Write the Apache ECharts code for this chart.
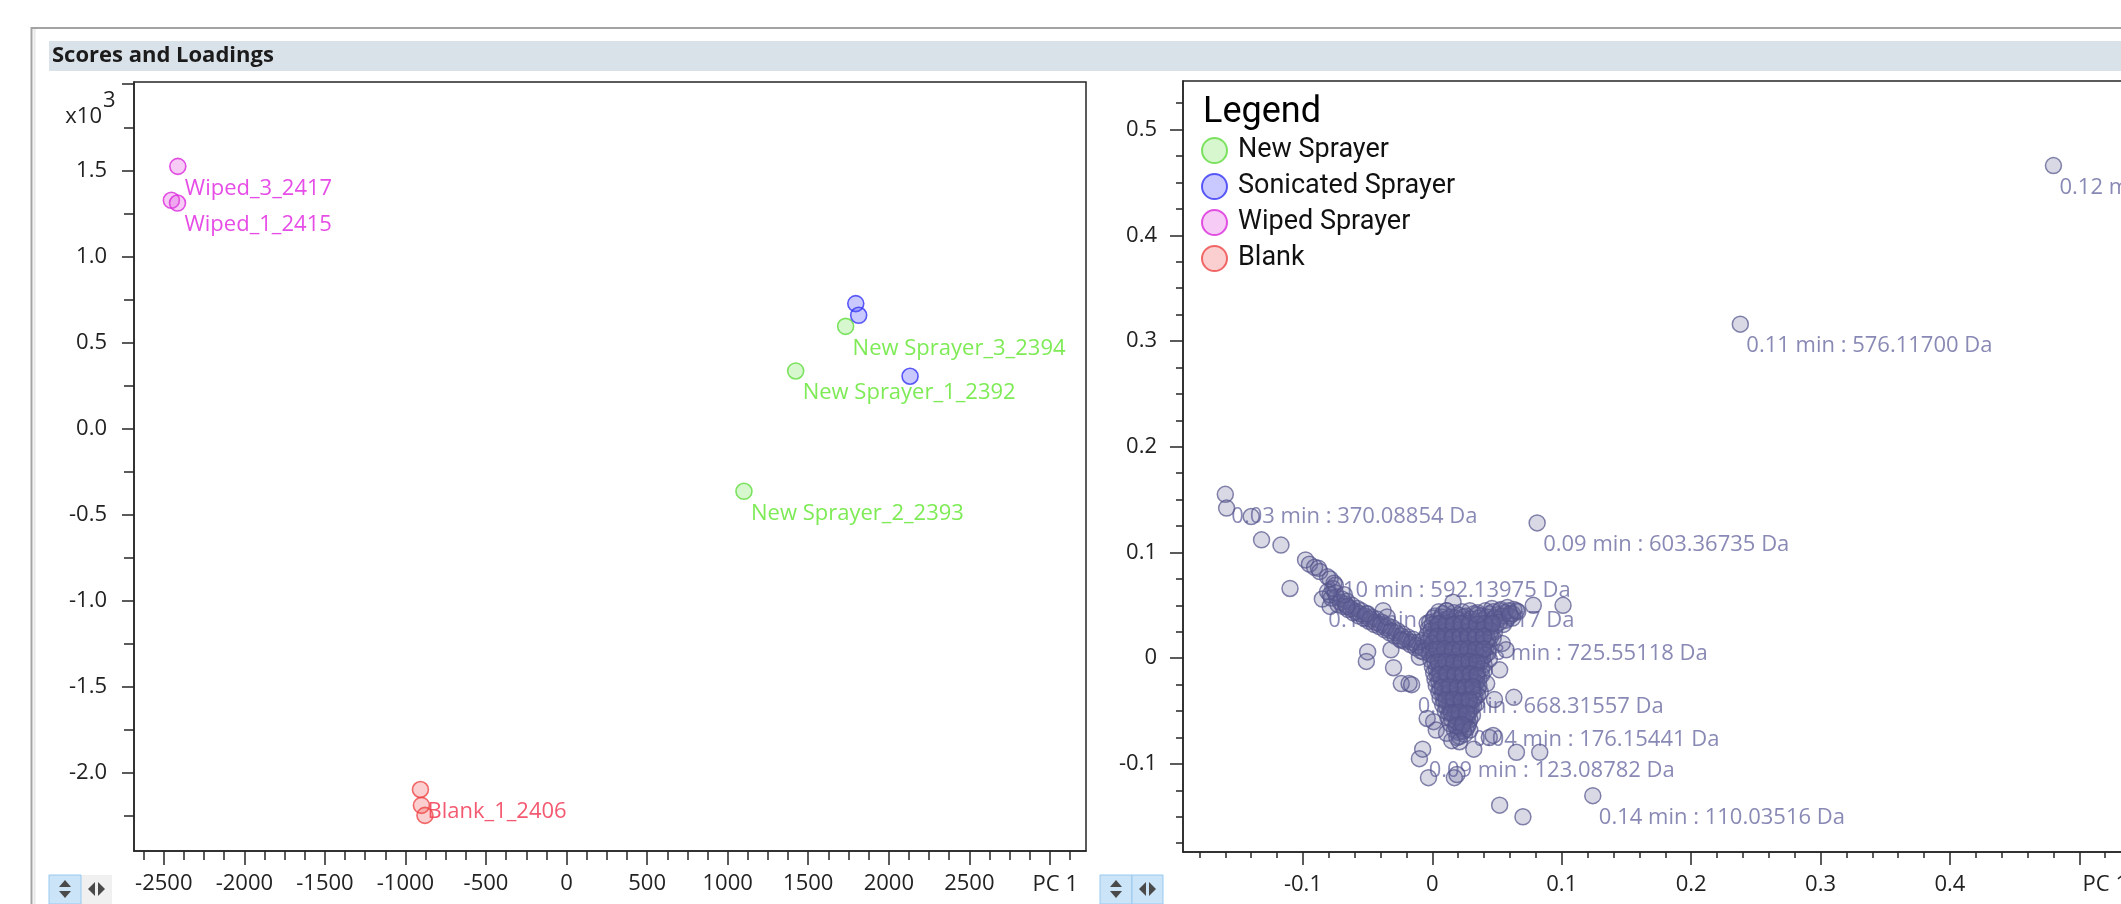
<!DOCTYPE html>
<html><head><meta charset="utf-8">
<script src="https://cdn.jsdelivr.net/npm/echarts@6/dist/echarts.min.js"></script>
<style>html,body{margin:0;padding:0;background:#fff;overflow:hidden}#c{width:2121px;height:904px}</style>
</head><body><div id="c"></div>
<script>
// ---------------- data ----------------
const groupNames = ['New Sprayer', 'Sonicated Sprayer', 'Wiped Sprayer', 'Blank'];
const newSprayer = [[1732, 594], [1422, 335], [1101, -364]];
const newSprayerLabels = ['New Sprayer_3_2394', 'New Sprayer_1_2392', 'New Sprayer_2_2393'];
const sonicated = [[1795, 726], [1813, 658], [2132, 304]];
const sonicatedLabels = ['', '', ''];
const wiped = [[-2413, 1523], [-2453, 1326], [-2415, 1310]];
const wipedLabels = ['Wiped_3_2417', '', 'Wiped_1_2415'];
const blank = [[-907, -2096], [-901, -2188], [-879, -2246]];
const blankLabels = ['Blank_1_2406', '', ''];

const scoreXTicks = [-2500, -2000, -1500, -1000, -500, 0, 500, 1000, 1500, 2000, 2500, 3000];
const scoreXTickLabels = ['-2500', '-2000', '-1500', '-1000', '-500', '0', '500', '1000', '1500', '2000', '2500', ''];
const scoreXMinor = [-2625, -2375, -2250, -2125, -1875, -1750, -1625, -1375, -1250, -1125, -875, -750, -625, -375, -250, -125,
  125, 250, 375, 625, 750, 875, 1125, 1250, 1375, 1625, 1750, 1875, 2125, 2250, 2375, 2625, 2750, 2875, 3125];
const scoreYTicks = [-2000, -1500, -1000, -500, 0, 500, 1000, 1500, 2000];
const scoreYTickLabels = ['-2.0', '-1.5', '-1.0', '-0.5', '0.0', '0.5', '1.0', '1.5', ''];
const scoreYMinor = [-2250, -1750, -1250, -750, -250, 250, 750, 1250, 1750];

const loadXTicks = [-0.1, 0, 0.1, 0.2, 0.3, 0.4, 0.5];
const loadXTickLabels = ['-0.1', '0', '0.1', '0.2', '0.3', '0.4', ''];
const loadXMinor = [-0.18, -0.16, -0.14, -0.12, -0.08, -0.06, -0.04, -0.02, 0.02, 0.04, 0.06, 0.08, 0.12, 0.14, 0.16, 0.18,
  0.22, 0.24, 0.26, 0.28, 0.32, 0.34, 0.36, 0.38, 0.42, 0.44, 0.46, 0.48, 0.52, 0.54];
const loadYTicks = [-0.1, 0, 0.1, 0.2, 0.3, 0.4, 0.5];
const loadYTickLabels = ['-0.1', '0', '0.1', '0.2', '0.3', '0.4', '0.5'];
const loadYMinor = [-0.175, -0.15, -0.125, -0.075, -0.05, -0.025, 0.025, 0.05, 0.075, 0.125, 0.15, 0.175,
  0.225, 0.25, 0.275, 0.325, 0.35, 0.375, 0.425, 0.45, 0.475, 0.525];

const loadingPoints = [
  // upper-left tail
  [-0.160, 0.155], [-0.159, 0.142], [-0.140, 0.134], [-0.132, 0.112], [-0.117, 0.107], [-0.110, 0.066],
  [-0.098, 0.093], [-0.095, 0.089], [-0.091, 0.086], [-0.088, 0.085], [-0.087, 0.082], [-0.081, 0.077],
  [-0.079, 0.075], [-0.076, 0.071], [-0.075, 0.069], [-0.085, 0.056], [-0.079, 0.049],
  // left arm
  [-0.081, 0.063], [-0.078, 0.057], [-0.077, 0.066], [-0.074, 0.058], [-0.073, 0.051], [-0.070, 0.056],
  [-0.069, 0.049], [-0.066, 0.054], [-0.065, 0.046], [-0.062, 0.050], [-0.061, 0.043], [-0.058, 0.047],
  [-0.057, 0.040], [-0.055, 0.045], [-0.053, 0.038], [-0.050, 0.042], [-0.049, 0.035], [-0.047, 0.039],
  [-0.045, 0.032], [-0.043, 0.037], [-0.041, 0.030], [-0.039, 0.034], [-0.037, 0.027], [-0.035, 0.031],
  [-0.033, 0.024], [-0.031, 0.029], [-0.029, 0.021], [-0.027, 0.026], [-0.025, 0.018], [-0.023, 0.023],
  [-0.021, 0.016], [-0.019, 0.020], [-0.017, 0.013], [-0.015, 0.018], [-0.013, 0.010], [-0.011, 0.015],
  [-0.009, 0.007],
  [-0.079, 0.060], [-0.075, 0.062], [-0.071, 0.053], [-0.067, 0.051], [-0.063, 0.047], [-0.059, 0.044],
  [-0.056, 0.042], [-0.052, 0.040], [-0.048, 0.037], [-0.044, 0.034], [-0.040, 0.032], [-0.036, 0.029],
  [-0.032, 0.026], [-0.028, 0.024], [-0.024, 0.021], [-0.020, 0.018], [-0.016, 0.015], [-0.012, 0.012],
  [-0.008, 0.010], [-0.005, 0.008],
  [-0.068, 0.060], [-0.066, 0.049], [-0.051, 0.042], [-0.038, 0.045], [-0.035, 0.039], [-0.024, 0.017],
  [-0.050, 0.006], [-0.051, -0.003], [-0.032, 0.008], [-0.030, -0.009], [-0.024, -0.024], [-0.018, -0.024],
  [-0.016, -0.025], [-0.007, 0.017], [-0.010, 0.001], [-0.007, 0.006], [-0.004, 0.033],
  // core, layer 1
  [0.046, 0.047], [0.052, 0.045], [0.058, 0.048], [0.063, 0.046],
  [0.002, 0.040], [0.008, 0.042], [0.014, 0.039], [0.020, 0.041], [0.026, 0.040], [0.032, 0.042], [0.038, 0.040],
  [0.044, 0.042], [0.050, 0.041], [0.056, 0.043], [0.062, 0.042], [0.066, 0.044],
  [-0.002, 0.034], [0.004, 0.036], [0.009, 0.035], [0.015, 0.034], [0.021, 0.036], [0.027, 0.035], [0.033, 0.034],
  [0.039, 0.036], [0.045, 0.035], [0.051, 0.037], [0.057, 0.036], [0.062, 0.038],
  [-0.003, 0.028], [0.003, 0.030], [0.008, 0.029], [0.013, 0.028], [0.019, 0.030], [0.025, 0.029], [0.031, 0.028],
  [0.037, 0.030], [0.043, 0.029], [0.049, 0.031], [0.055, 0.032],
  [-0.004, 0.022], [0.002, 0.024], [0.007, 0.023], [0.012, 0.022], [0.018, 0.024], [0.024, 0.023], [0.030, 0.022],
  [0.036, 0.024], [0.042, 0.023], [0.048, 0.025],
  [-0.003, 0.016], [0.002, 0.018], [0.008, 0.017], [0.013, 0.016], [0.019, 0.018], [0.025, 0.017], [0.031, 0.016],
  [0.037, 0.018], [0.043, 0.017], [0.047, 0.019],
  [-0.002, 0.010], [0.003, 0.012], [0.009, 0.011], [0.014, 0.010], [0.020, 0.012], [0.026, 0.011], [0.032, 0.010],
  [0.038, 0.012], [0.044, 0.011],
  [-0.002, 0.004], [0.004, 0.006], [0.009, 0.005], [0.015, 0.004], [0.021, 0.006], [0.027, 0.005], [0.033, 0.004],
  [0.038, 0.006], [0.043, 0.005],
  [-0.001, -0.002], [0.004, 0.000], [0.010, -0.001], [0.016, -0.002], [0.022, 0.000], [0.028, -0.001], [0.034, -0.002],
  [0.039, 0.000], [0.044, -0.001],
  [0.000, -0.008], [0.005, -0.006], [0.011, -0.007], [0.017, -0.008], [0.023, -0.006], [0.029, -0.007], [0.034, -0.008], [0.040, -0.006],
  [0.001, -0.014], [0.006, -0.012], [0.012, -0.013], [0.018, -0.014], [0.024, -0.012], [0.030, -0.013], [0.035, -0.014], [0.040, -0.012],
  [0.002, -0.020], [0.007, -0.018], [0.013, -0.019], [0.019, -0.020], [0.025, -0.018], [0.031, -0.019], [0.036, -0.020],
  [0.003, -0.026], [0.008, -0.024], [0.014, -0.025], [0.020, -0.026], [0.026, -0.024], [0.031, -0.025], [0.036, -0.026],
  [0.005, -0.032], [0.010, -0.030], [0.015, -0.031], [0.021, -0.032], [0.027, -0.030], [0.032, -0.031], [0.037, -0.032],
  [0.006, -0.038], [0.011, -0.036], [0.017, -0.037], [0.022, -0.038], [0.028, -0.036], [0.033, -0.037],
  [0.008, -0.044], [0.013, -0.042], [0.018, -0.043], [0.024, -0.044], [0.029, -0.042], [0.034, -0.043],
  [0.010, -0.050], [0.015, -0.048], [0.020, -0.049], [0.025, -0.050], [0.030, -0.048],
  [0.012, -0.056], [0.017, -0.054], [0.022, -0.055], [0.027, -0.056], [0.031, -0.054],
  [0.014, -0.062], [0.019, -0.060], [0.024, -0.061], [0.028, -0.062],
  [0.017, -0.068], [0.022, -0.066], [0.026, -0.067],
  [0.021, -0.074], [0.025, -0.072],
  // core, layer 2
  [0.005, 0.044], [0.011, 0.045], [0.017, 0.043], [0.023, 0.044], [0.029, 0.045], [0.035, 0.043], [0.041, 0.045],
  [0.047, 0.044], [0.053, 0.046], [0.059, 0.045],
  [0.001, 0.038], [0.007, 0.039], [0.012, 0.037], [0.018, 0.038], [0.024, 0.039], [0.030, 0.037], [0.036, 0.038],
  [0.042, 0.039], [0.048, 0.038], [0.054, 0.040], [0.060, 0.040],
  [0.000, 0.032], [0.006, 0.033], [0.011, 0.031], [0.016, 0.032], [0.022, 0.033], [0.028, 0.031], [0.034, 0.032],
  [0.040, 0.033], [0.046, 0.032], [0.052, 0.034],
  [-0.001, 0.026], [0.005, 0.027], [0.010, 0.025], [0.015, 0.026], [0.021, 0.027], [0.027, 0.025], [0.033, 0.026],
  [0.039, 0.027], [0.045, 0.026],
  [-0.001, 0.020], [0.005, 0.021], [0.010, 0.019], [0.016, 0.020], [0.022, 0.021], [0.028, 0.019], [0.034, 0.020],
  [0.040, 0.021], [0.045, 0.020],
  [0.000, 0.014], [0.006, 0.015], [0.011, 0.013], [0.017, 0.014], [0.023, 0.015], [0.029, 0.013], [0.035, 0.014], [0.041, 0.015],
  [0.001, 0.008], [0.006, 0.009], [0.012, 0.007], [0.018, 0.008], [0.024, 0.009], [0.030, 0.007], [0.036, 0.008], [0.041, 0.009],
  [0.001, 0.002], [0.007, 0.003], [0.012, 0.001], [0.019, 0.002], [0.025, 0.003], [0.031, 0.001], [0.036, 0.002], [0.041, 0.003],
  [0.002, -0.004], [0.008, -0.003], [0.013, -0.005], [0.020, -0.004], [0.026, -0.003], [0.032, -0.005], [0.037, -0.004],
  [0.003, -0.010], [0.008, -0.009], [0.014, -0.011], [0.020, -0.010], [0.027, -0.009], [0.033, -0.011], [0.038, -0.010],
  [0.004, -0.016], [0.010, -0.015], [0.016, -0.017], [0.022, -0.016], [0.028, -0.015], [0.034, -0.017], [0.038, -0.016],
  [0.005, -0.022], [0.011, -0.021], [0.017, -0.023], [0.023, -0.022], [0.029, -0.021], [0.034, -0.023],
  [0.006, -0.028], [0.012, -0.027], [0.018, -0.029], [0.024, -0.028], [0.030, -0.027], [0.035, -0.029],
  [0.008, -0.034], [0.013, -0.033], [0.019, -0.035], [0.025, -0.034], [0.031, -0.033], [0.035, -0.035],
  [0.009, -0.040], [0.015, -0.039], [0.021, -0.041], [0.026, -0.040], [0.032, -0.039],
  [0.011, -0.046], [0.016, -0.045], [0.022, -0.047], [0.027, -0.046], [0.032, -0.045],
  [0.013, -0.052], [0.018, -0.051], [0.023, -0.053], [0.028, -0.052],
  [0.015, -0.058], [0.020, -0.057], [0.025, -0.059], [0.029, -0.058],
  [0.018, -0.064], [0.023, -0.063], [0.027, -0.065],
  [0.020, -0.070], [0.024, -0.069],
  // core, densest centre
  [0.0045, 0.0325], [0.0105, 0.0330], [0.0165, 0.0320], [0.0225, 0.0325], [0.0285, 0.0330], [0.0345, 0.0320],
  [0.0405, 0.0325], [0.0465, 0.0330],
  [0.0035, 0.0205], [0.0095, 0.0210], [0.0155, 0.0200], [0.0215, 0.0205], [0.0275, 0.0210], [0.0335, 0.0200], [0.0395, 0.0205],
  [0.0035, 0.0085], [0.0095, 0.0090], [0.0155, 0.0080], [0.0215, 0.0085], [0.0275, 0.0090], [0.0335, 0.0080], [0.0395, 0.0085],
  [0.0045, -0.0035], [0.0105, -0.0030], [0.0165, -0.0040], [0.0225, -0.0035], [0.0285, -0.0030], [0.0345, -0.0040],
  [0.0055, -0.0155], [0.0115, -0.0150], [0.0175, -0.0160], [0.0235, -0.0155], [0.0295, -0.0150], [0.0345, -0.0160],
  [0.0075, -0.0275], [0.0135, -0.0270], [0.0195, -0.0280], [0.0255, -0.0275], [0.0315, -0.0270],
  [0.0105, -0.0395], [0.0165, -0.0390], [0.0225, -0.0400], [0.0285, -0.0395],
  [0.0145, -0.0515], [0.0205, -0.0510], [0.0265, -0.0520],
  [0.0185, -0.0635], [0.0235, -0.0630],
  // around core
  [0.016, 0.053], [0.011, 0.045], [0.035, 0.041], [0.060, 0.042], [0.065, 0.045], [0.078, 0.050], [0.101, 0.050],
  [0.054, 0.014], [0.057, 0.008], [0.052, -0.011], [0.042, -0.024], [0.063, -0.037], [0.048, -0.039],
  [-0.004, -0.057], [0.001, -0.060], [0.003, -0.068], [0.011, -0.071], [0.019, -0.075], [0.029, -0.068],
  [0.021, -0.079], [0.015, -0.078], [0.032, -0.086], [0.044, -0.075], [0.047, -0.073], [0.065, -0.089], [0.083, -0.089],
  [-0.0075, -0.086], [-0.010, -0.095], [-0.003, -0.113], [0.017, -0.113], [0.019, -0.110],
  [0.124, -0.130], [0.052, -0.139], [0.070, -0.150],
  [0.081, 0.128], [0.238, 0.316], [0.480, 0.466]
];

const loadingLabels = [
  [-0.160, 0.155, '0.03 min : 370.08854 Da'],
  [0.081, 0.128, '0.09 min : 603.36735 Da'],
  [-0.088, 0.085, '0.10 min : 592.13975 Da'],
  [-0.085, 0.056, '0.13 min : 419.31617 Da'],
  [0.018, 0.025, '0.08 min : 725.55118 Da'],
  [-0.016, -0.025, '0.11 min : 668.31557 Da'],
  [0.027, -0.056, '0.04 min : 176.15441 Da'],
  [-0.0075, -0.086, '0.09 min : 123.08782 Da'],
  [0.124, -0.130, '0.14 min : 110.03516 Da'],
  [0.238, 0.316, '0.11 min : 576.11700 Da'],
  [0.480, 0.466, '0.12 min : 449.23381 Da']
];

// ---------------- styles ----------------
const FONT = '"Open Sans", "Noto Sans", sans-serif';
const AX = '#262626';
const groupStyle = {
  'New Sprayer': { fill: 'rgba(110,225,80,0.34)', stroke: '#5fdc3c', label: '#5ee62c' },
  'Sonicated Sprayer': { fill: 'rgba(70,70,255,0.36)', stroke: '#3434f5', label: '#3434f5' },
  'Wiped Sprayer': { fill: 'rgba(225,80,225,0.36)', stroke: '#dc28dc', label: '#e020e0' },
  'Blank': { fill: 'rgba(240,80,80,0.34)', stroke: '#ee4646', label: '#f0304c' }
};
const groups = [
  [groupNames[0], newSprayer, newSprayerLabels],
  [groupNames[1], sonicated, sonicatedLabels],
  [groupNames[2], wiped, wipedLabels],
  [groupNames[3], blank, blankLabels]
];

function fmt(ticks, labels) {
  return function (v) {
    for (let i = 0; i < ticks.length; i++) if (Math.abs(ticks[i] - v) < 1e-7) return labels[i];
    return '';
  };
}
function majorAxis(grid, dim, min, max, ticks, labels, len, margin) {
  return {
    gridIndex: grid, type: 'value', min: min, max: max,
    position: dim === 'x' ? 'bottom' : 'left',
    axisLine: { show: true, onZero: false, lineStyle: { color: AX, width: 1.5 } },
    axisTick: { show: true, customValues: ticks, length: len, lineStyle: { color: AX, width: 1.5 } },
    axisLabel: { show: true, customValues: ticks, formatter: fmt(ticks, labels), margin: margin,
      fontFamily: FONT, fontSize: 22, color: '#222', showMinLabel: true, showMaxLabel: true },
    splitLine: { show: false }, minorTick: { show: false }
  };
}
function minorAxis(grid, dim, min, max, ticks, len) {
  return {
    gridIndex: grid, type: 'value', min: min, max: max,
    position: dim === 'x' ? 'bottom' : 'left',
    axisLine: { show: false, onZero: false },
    axisTick: { show: true, customValues: ticks, length: len, lineStyle: { color: AX, width: 1.5 } },
    axisLabel: { show: false }, splitLine: { show: false }
  };
}

const series = [];
const scoreLabelData = [];
groups.forEach(g => {
  g[1].forEach((p, i) => {
    if (g[2][i]) scoreLabelData.push({ value: p, name: g[2][i], label: { color: groupStyle[g[0]].label } });
  });
});
series.push({
  type: 'scatter', xAxisIndex: 0, yAxisIndex: 0, z: 2, silent: true, symbolSize: 1,
  itemStyle: { color: 'rgba(0,0,0,0)' }, data: scoreLabelData,
  label: { show: true, position: [7.5, 22.5], align: 'left', verticalAlign: 'middle',
    formatter: p => p.name, fontFamily: FONT, fontSize: 22 }
});
groups.forEach(g => {
  const s = groupStyle[g[0]];
  series.push({
    name: g[0], type: 'scatter', xAxisIndex: 0, yAxisIndex: 0, z: 3, silent: true,
    symbol: 'circle', symbolSize: 16,
    itemStyle: { color: s.fill, borderColor: s.stroke, borderWidth: 1.6 },
    data: g[1]
  });
});
series.push({
  type: 'scatter', xAxisIndex: 2, yAxisIndex: 2, z: 2, silent: true, symbolSize: 1,
  itemStyle: { color: 'rgba(0,0,0,0)' },
  data: loadingLabels.map(r => ({ value: [r[0], r[1]], name: r[2] })),
  label: { show: true, position: [6.5, 22.5], align: 'left', verticalAlign: 'middle',
    formatter: p => p.name, fontFamily: FONT, fontSize: 22, color: '#6b6ba3' }
});
series.push({
  type: 'scatter', xAxisIndex: 2, yAxisIndex: 2, z: 3, silent: true, symbol: 'circle', symbolSize: 16,
  itemStyle: { color: 'rgba(100,100,152,0.31)', borderColor: 'rgba(84,84,140,0.9)', borderWidth: 1.5 },
  data: loadingPoints
});

const chart = echarts.init(document.getElementById('c'), null, { renderer: 'canvas' });
chart.setOption({
  animation: false,
  backgroundColor: '#ffffff',
  title: { text: 'Legend', left: 1203, top: 95, padding: 0,
    textStyle: { fontFamily: 'Roboto', fontSize: 36, fontWeight: 'normal', color: '#000' } },
  legend: {
    show: true, orient: 'vertical', left: 1201, top: 137, padding: 0,
    itemWidth: 25, itemHeight: 25, itemGap: 9, icon: 'circle', selectedMode: false,
    data: groupNames,
    textStyle: { fontFamily: 'Roboto', fontSize: 27, color: '#111', padding: [0, 0, 0, 6] }
  },
  grid: [
    { left: 134, top: 82, width: 952, height: 769, show: true, borderColor: AX, borderWidth: 1.5,
      backgroundColor: '#fff', containLabel: false, outerBoundsMode: 'none' },
    { left: 1183, top: 81, width: 953, height: 771, show: true, borderColor: AX, borderWidth: 1.5,
      backgroundColor: '#fff', containLabel: false, outerBoundsMode: 'none' }
  ],
  xAxis: [
    majorAxis(0, 'x', -2685, 3224, scoreXTicks, scoreXTickLabels, 14, 22),
    minorAxis(0, 'x', -2685, 3224, scoreXMinor, 9),
    majorAxis(1, 'x', -0.1927, 0.5438, loadXTicks, loadXTickLabels, 13, 22),
    minorAxis(1, 'x', -0.1927, 0.5438, loadXMinor, 6)
  ],
  yAxis: [
    majorAxis(0, 'y', -2453, 2013, scoreYTicks, scoreYTickLabels, 12, 27),
    minorAxis(0, 'y', -2453, 2013, scoreYMinor, 10),
    majorAxis(1, 'y', -0.1833, 0.546, loadYTicks, loadYTickLabels, 13, 26),
    minorAxis(1, 'y', -0.1833, 0.546, loadYMinor, 7)
  ],
  series: series
});

const y2000 = chart.convertToPixel({ yAxisIndex: 0 }, 2000);
const g0 = chart.getModel().getComponent('grid', 0).coordinateSystem.getRect();
const g1 = chart.getModel().getComponent('grid', 1).coordinateSystem.getRect();
const tri = (pts, fill) => ({ type: 'polygon', shape: { points: pts }, style: { fill: fill }, z: 10 });
function buttons(x0, bothBlue) {
  return [
    { type: 'rect', shape: { x: x0, y: 875, width: 63, height: 29 }, style: { fill: '#f0f0f0' }, z: 9 },
    { type: 'rect', shape: { x: x0, y: 875, width: 32, height: 29 }, style: { fill: '#cce4f7', stroke: '#99c9ef', lineWidth: 1 }, z: 9 },
    bothBlue ? { type: 'rect', shape: { x: x0 + 32, y: 875, width: 31, height: 29 }, style: { fill: '#cce4f7', stroke: '#99c9ef', lineWidth: 1 }, z: 9 } : null,
    tri([[x0 + 10, 887], [x0 + 22, 887], [x0 + 16, 880]], '#4a4a4a'),
    tri([[x0 + 10, 891], [x0 + 22, 891], [x0 + 16, 898]], '#4a4a4a'),
    tri([[x0 + 39, 889], [x0 + 46, 882], [x0 + 46, 896]], '#4a4a4a'),
    tri([[x0 + 49, 882], [x0 + 56, 889], [x0 + 49, 896]], '#4a4a4a')
  ].filter(Boolean);
}
chart.setOption({
  graphic: [
    { type: 'line', shape: { x1: 31, y1: 28, x2: 2121, y2: 28 }, style: { stroke: '#a3a3a3', lineWidth: 2 }, z: 1 },
    { type: 'line', shape: { x1: 31.5, y1: 27, x2: 31.5, y2: 904 }, style: { stroke: '#a3a3a3', lineWidth: 2 }, z: 1 },
    { type: 'line', shape: { x1: 34.5, y1: 29, x2: 34.5, y2: 904 }, style: { stroke: '#e8e8e8', lineWidth: 2 }, z: 1 },
    { type: 'rect', shape: { x: 49, y: 41, width: 2072, height: 30 }, style: { fill: '#d9e1e9' }, z: 1 },
    { type: 'text', x: 52, y: 56, style: { text: 'Scores and Loadings', font: 'bold 22px "Open Sans"', fill: '#1b1b1b', verticalAlign: 'middle', align: 'left' }, z: 2 },
    { type: 'text', x: 102, y: y2000 + 32, style: { text: 'x10', font: '22px "Open Sans"', fill: '#222', verticalAlign: 'middle', align: 'right' }, z: 2 },
    { type: 'text', x: 103, y: y2000 + 16, style: { text: '3', font: '22px "Open Sans"', fill: '#222', verticalAlign: 'middle', align: 'left' }, z: 2 },
    { type: 'text', x: g0.x + g0.width - 8, y: 885, style: { text: 'PC 1', font: '22px "Open Sans"', fill: '#222', verticalAlign: 'middle', align: 'right' }, z: 2 },
    { type: 'text', x: g1.x + g1.width - 8, y: 885, style: { text: 'PC 1', font: '22px "Open Sans"', fill: '#222', verticalAlign: 'middle', align: 'right' }, z: 2 }
  ].concat(buttons(49, false), buttons(1100, true))
});
</script>
</body></html>
